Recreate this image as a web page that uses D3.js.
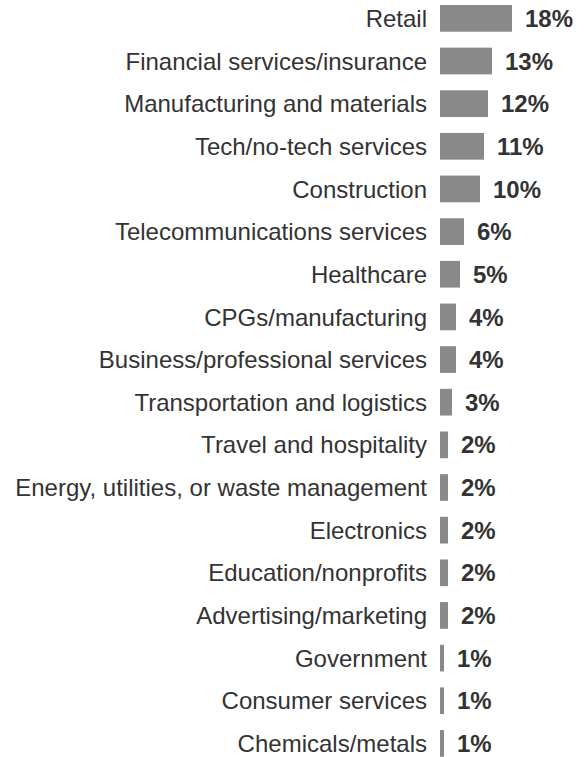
<!DOCTYPE html>
<html>
<head>
<meta charset="utf-8">
<script src="https://cdn.jsdelivr.net/npm/d3@7"></script>
<style>
  html, body { margin: 0; padding: 0; background: #fff; }
  svg { display: block; }
</style>
</head>
<body>
<svg id="chart" width="585" height="757"></svg>
<script>
const categories = [
  "Retail",
  "Financial services/insurance",
  "Manufacturing and materials",
  "Tech/no-tech services",
  "Construction",
  "Telecommunications services",
  "Healthcare",
  "CPGs/manufacturing",
  "Business/professional services",
  "Transportation and logistics",
  "Travel and hospitality",
  "Energy, utilities, or waste management",
  "Electronics",
  "Education/nonprofits",
  "Advertising/marketing",
  "Government",
  "Consumer services",
  "Chemicals/metals"
];
const values = [18, 13, 12, 11, 10, 6, 5, 4, 4, 3, 2, 2, 2, 2, 2, 1, 1, 1];
const valueLabels = ["18%", "13%", "12%", "11%", "10%", "6%", "5%", "4%", "4%", "3%", "2%", "2%", "2%", "2%", "2%", "1%", "1%", "1%"];

const data = categories.map((c, i) => ({ cat: c, val: values[i], label: valueLabels[i] }));

const svg = d3.select("#chart");
const barX0 = 440;

const y = d3.scaleBand()
  .domain(categories)
  .range([5, 756.75])
  .paddingInner(0.374)
  .paddingOuter(0);

const x = d3.scaleLinear()
  .domain([0, 18])
  .range([barX0, barX0 + 72]);

const font = "'Liberation Sans', Helvetica, Arial, sans-serif";

svg.append("g").selectAll("rect")
  .data(data)
  .join("rect")
  .attr("x", x(0))
  .attr("y", d => y(d.cat))
  .attr("width", d => x(d.val) - x(0))
  .attr("height", y.bandwidth())
  .attr("fill", "#898989");

svg.append("g").selectAll("text")
  .data(data)
  .join("text")
  .attr("x", barX0 - 13)
  .attr("y", d => y(d.cat) + y.bandwidth() / 2)
  .attr("dy", "0.36em")
  .attr("text-anchor", "end")
  .attr("font-family", font)
  .attr("font-size", 24)
  .attr("fill", "#333")
  .text(d => d.cat);

svg.append("g").selectAll("text")
  .data(data)
  .join("text")
  .attr("x", d => x(d.val) + 13)
  .attr("y", d => y(d.cat) + y.bandwidth() / 2)
  .attr("dy", "0.36em")
  .attr("font-family", font)
  .attr("font-size", 24)
  .attr("font-weight", "bold")
  .attr("fill", "#333")
  .text(d => d.label);
</script>
</body>
</html>
